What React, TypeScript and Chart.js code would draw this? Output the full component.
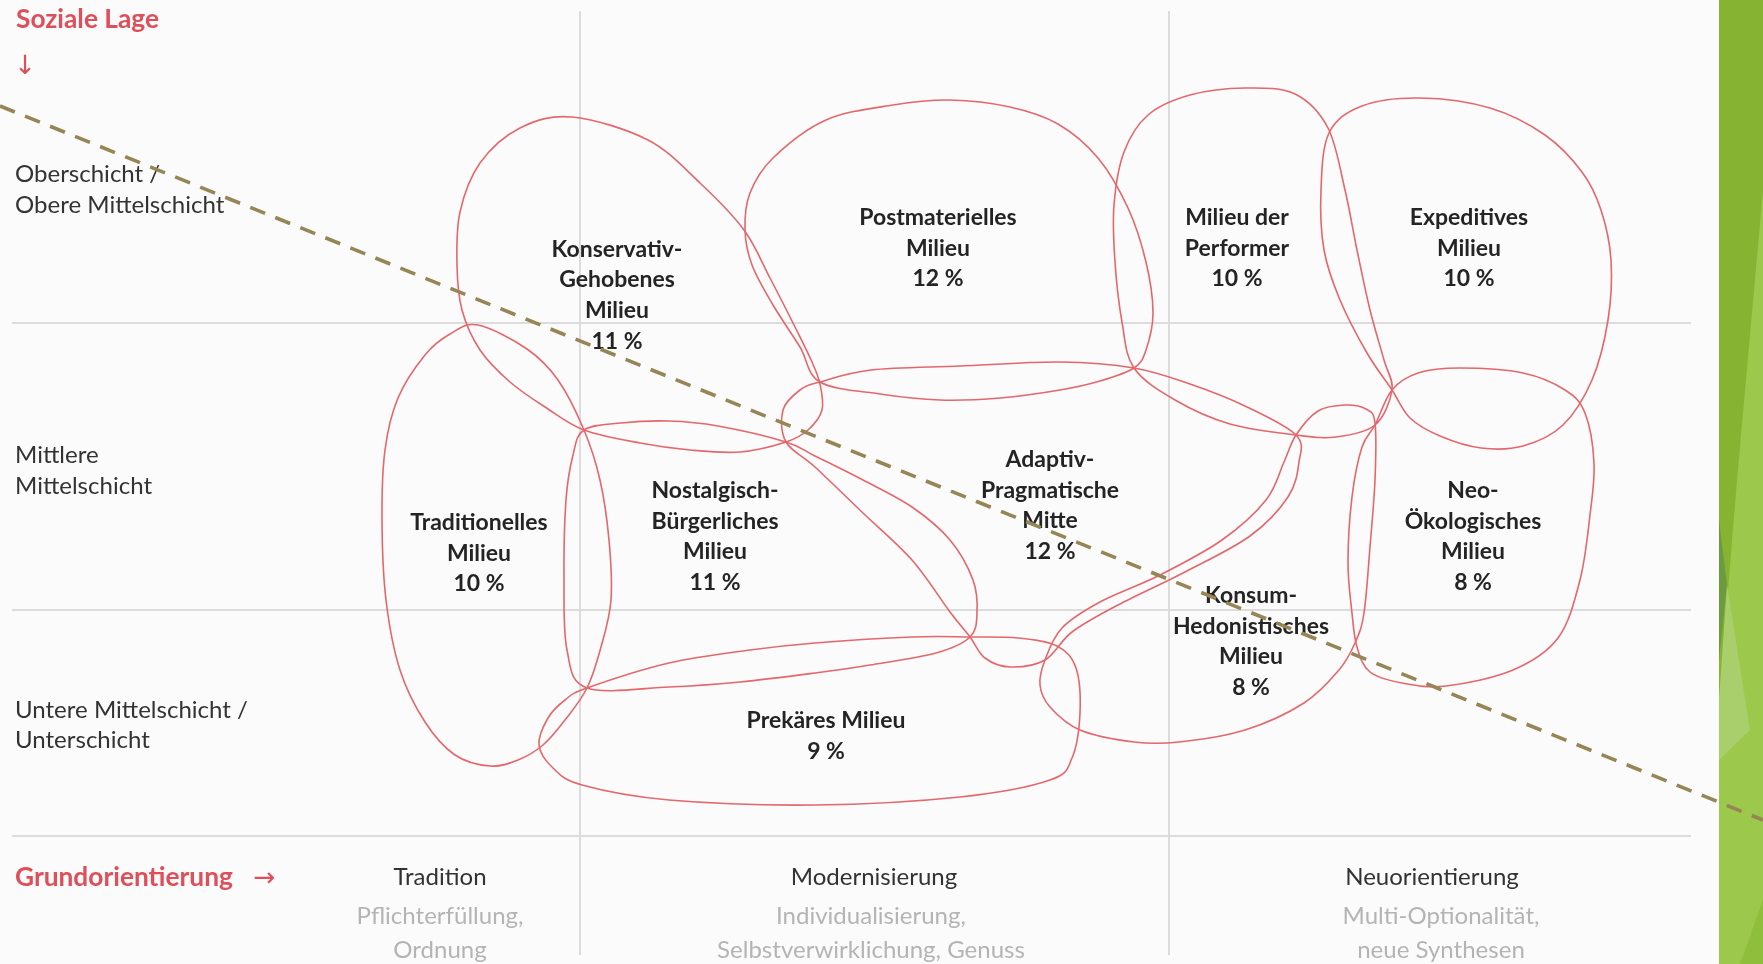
import React, { useEffect, useRef } from "react";
import Chart from "chart.js/auto";

// ---------- data ----------
const milieuLabelLines: string[][] = [
  ["Konservativ-", "Gehobenes", "Milieu"],
  ["Postmaterielles", "Milieu"],
  ["Milieu der", "Performer"],
  ["Expeditives", "Milieu"],
  ["Adaptiv-", "Pragmatische", "Mitte"],
  ["Neo-", "Ökologisches", "Milieu"],
  ["Traditionelles", "Milieu"],
  ["Nostalgisch-", "Bürgerliches", "Milieu"],
  ["Prekäres Milieu"],
  ["Konsum-", "Hedonistisches", "Milieu"],
];
const milieuShares = [11, 12, 10, 10, 12, 8, 10, 11, 9, 8];

// outline points (x: Grundorientierung axis units, y: Soziale Lage axis units)
const outlineKonservativ = [[572,117],[648,140],[700,183],[744,230],[770,278],[795,327],[812,362],[820,384],[822,410],[808,430],[786,442],[740,452],[690,450],[640,443],[584,430],[545,407],[510,382],[480,350],[462,310],[457,265],[460,212],[480,163],[520,128]];
const outlinePostmateriell = [[820,382],[800,347],[773,305],[752,265],[745,230],[750,193],[773,158],[826,120],[893,105],[950,100],[1010,107],[1058,124],[1098,158],[1128,208],[1146,262],[1153,313],[1146,350],[1134,368],[1100,381],[1060,390],[1000,398],[940,400],[880,394]];
const outlinePerformer = [[1134,368],[1122,322],[1115,262],[1114,205],[1124,152],[1148,115],[1190,95],[1245,88],[1295,94],[1328,128],[1345,190],[1357,250],[1370,310],[1384,360],[1392,390],[1375,425],[1336,437],[1296,435],[1230,424],[1175,400]];
const outlineExpeditiv = [[1329,133],[1321,190],[1324,250],[1340,300],[1367,353],[1392,390],[1410,418],[1440,436],[1481,448],[1523,446],[1563,425],[1592,380],[1608,320],[1611,260],[1601,210],[1582,172],[1545,135],[1490,108],[1420,98],[1362,106]];
const outlineAdaptiv = [[820,382],[871,370],[960,366],[1060,362],[1134,368],[1190,384],[1245,406],[1296,435],[1299,462],[1288,497],[1250,536],[1185,572],[1118,605],[1072,632],[1045,660],[1010,667],[985,658],[970,637],[950,612],[912,560],[863,513],[815,467],[786,442],[783,410],[800,390]];
const outlineNeoOeko = [[1392,390],[1418,373],[1460,368],[1523,373],[1565,390],[1585,413],[1594,463],[1590,515],[1580,580],[1558,638],[1513,670],[1446,686],[1402,683],[1370,672],[1357,647],[1352,613],[1348,563],[1352,497],[1362,447],[1375,425]];
const outlineTraditionell = [[478,325],[527,349],[558,380],[584,430],[600,480],[609,540],[611,600],[601,647],[587,688],[565,720],[543,745],[518,760],[490,766],[455,755],[425,722],[400,670],[386,600],[382,520],[385,450],[398,398],[425,355],[450,334]];
const outlineNostalgisch = [[584,430],[621,423],[669,421],[718,426],[786,442],[815,456],[863,480],[912,507],[950,540],[973,580],[977,613],[970,637],[936,653],[870,665],[815,673],[740,682],[669,687],[587,688],[567,650],[564,580],[566,500],[573,455]];
const outlinePrekaer = [[587,688],[669,663],[750,650],[815,643],[912,637],[970,637],[1018,638],[1057,646],[1076,668],[1080,713],[1072,758],[1050,780],[960,797],[815,805],[669,800],[582,785],[553,768],[539,745],[548,718],[565,700]];
const outlineHedonist = [[1045,660],[1040,685],[1050,707],[1080,730],[1134,742],[1179,742],[1245,730],[1304,703],[1339,670],[1355,643],[1364,613],[1370,547],[1375,480],[1375,423],[1366,409],[1345,405],[1318,411],[1296,435],[1284,462],[1266,500],[1222,540],[1160,575],[1100,602],[1062,628]];

const milieuOutlines = [
  outlineKonservativ, outlinePostmateriell, outlinePerformer, outlineExpeditiv, outlineAdaptiv,
  outlineNeoOeko, outlineTraditionell, outlineNostalgisch, outlinePrekaer, outlineHedonist,
];

const socialLayerLabels: string[][] = [
  ["Oberschicht /", "Obere Mittelschicht"],
  ["Mittlere", "Mittelschicht"],
  ["Untere Mittelschicht /", "Unterschicht"],
];
const orientationLabels = ["Tradition", "Modernisierung", "Neuorientierung"];
const orientationNotes: string[][] = [
  ["Pflichterfüllung,", "Ordnung"],
  ["Individualisierung,", "Selbstverwirklichung, Genuss"],
  ["Multi-Optionalität,", "neue Synthesen"],
];
const yAxisTitle = "Soziale Lage";
const xAxisTitle = "Grundorientierung";

const gridXValues = [580, 1169];
const gridYValues = [323, 610, 836];
const trendLine = [{ x: 0, y: 106 }, { x: 1763, y: 820 }];

// ---------- layout / style ----------
const W = 1763, H = 964;
const FONT = "Lato, 'DejaVu Sans', sans-serif";
const labelAnchors = [[617,256.5],[938,225],[1237,225],[1469,225],[1050,467],[1473,498],[479,530],[715,498],[826,728],[1251,603]];
const LINE_H = 30.7;
const rowLabelBaselines = [[182,213],[463,494],[718,748]];
const headerCenters = [440, 874, 1432];
const noteCenters = [440, 871, 1441];
const RED = "#de4f5a";
const CURVE = "#e4676c";

function fitSize(ctx: CanvasRenderingContext2D, text: string, weight: string, target: number) {
  ctx.font = `${weight} 100px ${FONT}`;
  return (100 * target) / ctx.measureText(text).width;
}

function strokeClosedSpline(ctx: CanvasRenderingContext2D, pts: { x: number; y: number }[]) {
  const n = pts.length;
  ctx.beginPath();
  ctx.moveTo(pts[0].x, pts[0].y);
  for (let i = 0; i < n; i++) {
    const p0 = pts[(i - 1 + n) % n], p1 = pts[i], p2 = pts[(i + 1) % n], p3 = pts[(i + 2) % n];
    ctx.bezierCurveTo(
      p1.x + (p2.x - p0.x) / 6, p1.y + (p2.y - p0.y) / 6,
      p2.x - (p3.x - p1.x) / 6, p2.y - (p3.y - p1.y) / 6,
      p2.x, p2.y
    );
  }
  ctx.closePath();
  ctx.stroke();
}

const decorPlugin = {
  id: "milieuDecor",
  beforeDraw(chart: any) {
    const ctx = chart.ctx as CanvasRenderingContext2D;
    const xs = chart.scales.x, ys = chart.scales.y;
    const X = (v: number) => xs.getPixelForValue(v);
    const Y = (v: number) => ys.getPixelForValue(v);
    ctx.save();
    ctx.fillStyle = "#fbfbfb";
    ctx.fillRect(0, 0, chart.width, chart.height);
    // decorative green band
    ctx.fillStyle = "#86b331";
    ctx.fillRect(X(1719), 0, X(1763) - X(1719), chart.height);
    const poly = (pts: number[][], c: string) => {
      ctx.fillStyle = c;
      ctx.beginPath();
      pts.forEach((p, i) => (i ? ctx.lineTo(X(p[0]), Y(p[1])) : ctx.moveTo(X(p[0]), Y(p[1]))));
      ctx.closePath();
      ctx.fill();
    };
    poly([[1763,190],[1737,480],[1719,700],[1719,964],[1763,964]], "#9cc84b");
    poly([[1719,520],[1727,585],[1719,660]], "#6c9b3f");
    poly([[1727,585],[1750,730],[1719,760],[1719,700]], "#a9ce6c");
    poly([[1740,964],[1763,900],[1763,964]], "#8fbd3c");
    ctx.restore();
  },
  beforeDatasetsDraw(chart: any) {
    const ctx = chart.ctx as CanvasRenderingContext2D;
    const xs = chart.scales.x, ys = chart.scales.y;
    const X = (v: number) => xs.getPixelForValue(v);
    const Y = (v: number) => ys.getPixelForValue(v);
    ctx.save();
    // grid
    ctx.strokeStyle = "#dcdcdc";
    ctx.lineWidth = 2;
    gridXValues.forEach((g) => {
      ctx.beginPath(); ctx.moveTo(X(g), Y(11)); ctx.lineTo(X(g), Y(955)); ctx.stroke();
    });
    gridYValues.forEach((g) => {
      ctx.beginPath(); ctx.moveTo(X(12), Y(g)); ctx.lineTo(X(1691), Y(g)); ctx.stroke();
    });
    // milieu outlines from dataset element positions
    ctx.strokeStyle = CURVE;
    ctx.lineWidth = 1.6;
    chart.data.datasets.forEach((ds: any, i: number) => {
      if (ds.milieu === undefined) return;
      const meta = chart.getDatasetMeta(i);
      const pts = meta.data.map((e: any) => ({ x: e.x, y: e.y }));
      strokeClosedSpline(ctx, pts);
    });
    // fonts
    const regSize = fitSize(ctx, "Selbstverwirklichung, Genuss", "400", 308);
    const boldSize = fitSize(ctx, "Hedonistisches", "700", 156);
    const titleSize = fitSize(ctx, xAxisTitle, "700", 218);
    ctx.textBaseline = "alphabetic";
    // milieu labels
    ctx.fillStyle = "#242424";
    ctx.textAlign = "center";
    ctx.font = `700 ${boldSize}px ${FONT}`;
    milieuLabelLines.forEach((lines, i) => {
      const all = [...lines, `${milieuShares[i]} %`];
      const [ax, ay] = labelAnchors[i];
      all.forEach((t, k) => ctx.fillText(t, X(ax), Y(ay + k * LINE_H)));
    });
    // row labels
    ctx.textAlign = "left";
    ctx.fillStyle = "#333333";
    ctx.font = `400 ${regSize}px ${FONT}`;
    socialLayerLabels.forEach((lines, i) =>
      lines.forEach((t, k) => ctx.fillText(t, X(15), Y(rowLabelBaselines[i][k])))
    );
    // column labels
    ctx.textAlign = "center";
    orientationLabels.forEach((t, i) => ctx.fillText(t, X(headerCenters[i]), Y(885)));
    ctx.fillStyle = "#b4b4b4";
    orientationNotes.forEach((lines, i) =>
      lines.forEach((t, k) => ctx.fillText(t, X(noteCenters[i]), Y(k ? 958 : 923.5)))
    );
    // axis titles
    ctx.fillStyle = RED;
    ctx.textAlign = "left";
    ctx.font = `700 ${titleSize}px ${FONT}`;
    ctx.fillText(yAxisTitle, X(16), Y(28));
    ctx.fillText(xAxisTitle, X(15), Y(886));
    ctx.font = `400 ${titleSize}px 'DejaVu Sans', sans-serif`;
    ctx.fillText("↓", X(14), Y(74));
    ctx.fillText("→", X(253), Y(886));
    ctx.restore();
  },
};

export default function App() {
  const ref = useRef<HTMLCanvasElement | null>(null);
  useEffect(() => {
    document.body.style.margin = "0";
    const canvas = ref.current!;
    const datasets: any[] = [
      {
        label: "Trend",
        data: trendLine,
        showLine: true,
        borderColor: "#968655",
        borderWidth: 3.6,
        borderDash: [16, 11],
        pointRadius: 0,
        order: 0,
      },
      ...milieuOutlines.map((o, i) => ({
        label: milieuLabelLines[i].join(" "),
        milieu: i,
        data: o.map(([x, y]) => ({ x, y })),
        showLine: false,
        pointRadius: 0,
        order: 1,
      })),
    ];
    const chart = new Chart(canvas, {
      type: "scatter",
      data: { datasets },
      options: {
        animation: false,
        responsive: false,
        maintainAspectRatio: false,
        devicePixelRatio: 1,
        events: [],
        layout: { padding: 0 },
        scales: {
          x: { type: "linear", min: 0, max: W, display: false },
          y: { type: "linear", min: 0, max: H, reverse: true, display: false },
        },
        plugins: { legend: { display: false }, tooltip: { enabled: false } },
      },
      plugins: [decorPlugin as any],
    });
    return () => chart.destroy();
  }, []);
  return (
    <div style={{ position: "fixed", left: 0, top: 0, width: W, height: H }}>
      <canvas ref={ref} width={W} height={H} style={{ display: "block" }} />
    </div>
  );
}
